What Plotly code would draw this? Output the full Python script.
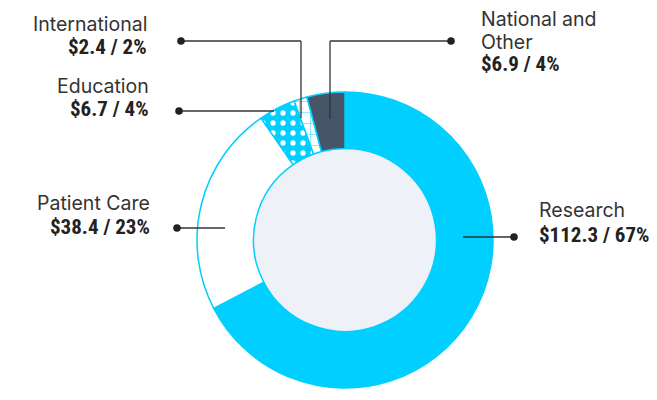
import plotly.graph_objects as go

categories = ["Research", "Patient Care", "Education", "International", "National and Other"]
amounts = [112.3, 38.4, 6.7, 2.4, 6.9]
percents = [67, 23, 4, 2, 4]
label_lines = [["Research"], ["Patient Care"], ["Education"], ["International"], ["National and", "Other"]]

CYAN = "#00CFFF"
DARK = "#475569"
HOLE = "#EEF2F8"

OFF = 8  # default page margin around the figure
W, H = 657 - 2 * OFF, 400 - 2 * OFF
cx, cy, R, r_in = 345, 240, 148, 91.5


def px(x):
    return (x - OFF) / W


def py(y):
    return 1 - (y - OFF) / H


fig = go.Figure()
fig.add_trace(go.Pie(
    labels=categories,
    values=amounts,
    sort=False,
    direction="clockwise",
    rotation=0,
    hole=r_in / R,
    textinfo="none",
    hoverinfo="label+value",
    showlegend=False,
    domain=dict(x=[px(cx - R), px(cx + R)], y=[py(cy + R), py(cy - R)]),
    marker=dict(
        colors=[CYAN, "#FFFFFF", CYAN, "#FFFFFF", DARK],
        line=dict(color=CYAN, width=1.5),
        pattern=dict(
            shape=["", "", ".", "+", ""],
            fgcolor=["#FFFFFF", "#FFFFFF", "#FFFFFF", CYAN, "#FFFFFF"],
            bgcolor=[CYAN, "#FFFFFF", CYAN, "#FFFFFF", DARK],
            size=[10, 10, 10, 11, 10],
            solidity=[0.2, 0.2, 0.22, 0.08, 0.2],
            fillmode="replace",
        ),
    ),
))

shapes = [
    dict(type="circle", xref="paper", yref="paper", layer="below",
         x0=px(cx - r_in), x1=px(cx + r_in), y0=py(cy + r_in), y1=py(cy - r_in),
         fillcolor=HOLE, line=dict(width=0)),
]

# leader lines (pixel positions of callouts)
leaders = [
    [(463, 237), (514, 237)],                     # Research
    [(177, 228), (225, 228)],                     # Patient Care
    [(179, 111), (274, 111)],                     # Education
    [(181, 41), (301, 41), (301, 118)],           # International
    [(451, 41), (330, 41), (330, 119)],           # National and Other
]
dots = [(514, 237), (177, 228), (179, 111), (181, 41), (451, 41)]
for pts in leaders:
    for (x0, y0), (x1, y1) in zip(pts[:-1], pts[1:]):
        shapes.append(dict(type="line", xref="paper", yref="paper",
                           x0=px(x0), y0=py(y0), x1=px(x1), y1=py(y1),
                           line=dict(color="#333333", width=1.3)))
for (x, y) in dots:
    rr = 3.8
    shapes.append(dict(type="circle", xref="paper", yref="paper",
                       x0=px(x - rr), x1=px(x + rr), y0=py(y + rr), y1=py(y - rr),
                       fillcolor="#222222", line=dict(width=0)))

# label positions: (x, anchor, [label line center ys], value center y)
label_pos = [
    (538, "left", [210], 235),
    (151, "right", [203], 227),
    (150, "right", [86], 109),
    (148, "right", [24], 47),
    (480, "left", [19.5, 42], 64),
]

LABEL_FONT = dict(family="Inter, Roboto, sans-serif", size=19.5, color="#333333")
VALUE_FONT = dict(family="Liberation Sans Narrow, Roboto Condensed, DejaVu Sans Condensed, sans-serif",
                  size=21, color="#222222", weight=700)

annotations = []
for i, (x, anc, lys, vy) in enumerate(label_pos):
    for line_text, ly in zip(label_lines[i], lys):
        annotations.append(dict(xref="paper", yref="paper", x=px(x), y=py(ly),
                                xanchor=anc, yanchor="middle", showarrow=False, borderpad=0,
                                text=line_text, font=LABEL_FONT, align=anc))
    annotations.append(dict(xref="paper", yref="paper", x=px(x), y=py(vy),
                            xanchor=anc, yanchor="middle", showarrow=False, borderpad=0,
                            text=f"${amounts[i]} / {percents[i]}%", font=VALUE_FONT, align=anc))

fig.update_layout(
    width=W, height=H,
    margin=dict(l=0, r=0, t=0, b=0),
    paper_bgcolor="white", plot_bgcolor="white",
    shapes=shapes,
    annotations=annotations,
)

fig.write_html("out.html")
